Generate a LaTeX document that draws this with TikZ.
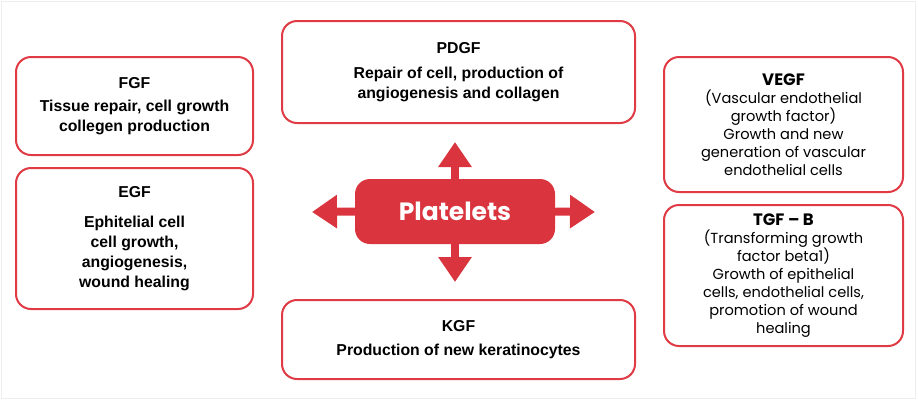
\documentclass[tikz,border=0pt]{standalone}
\usepackage{fontspec}
\setmainfont{Liberation Sans}
\newfontfamily\geofont{Poppins}
\usetikzlibrary{arrows.meta,positioning}

\definecolor{pltred}{HTML}{DA343E}
\definecolor{boxred}{HTML}{E03A44}

\tikzset{
  factor/.style={draw=boxred, line width=2pt, rounded corners=15pt, fill=white,
    inner sep=0pt, align=center, font=\fontsize{15.8}{20}\selectfont\bfseries},
  factorlight/.style={factor, font=\geofont\fontsize{14.6}{18}\selectfont},
  hub/.style={fill=pltred, rounded corners=15pt, minimum width=200pt, minimum height=65pt,
    inner sep=0pt, text=white, font=\geofont\fontsize{25}{28}\selectfont\bfseries},
  spoke/.style={pltred, line width=8pt, -{Triangle[width=32pt,length=25pt]}}
}
\newcommand\facttitle[1]{{\fontsize{16.5}{18}\selectfont\bfseries #1}}

\begin{document}
\begin{tikzpicture}[x=1pt,y=-1pt]
  \useasboundingbox (0,0) rectangle (918,400);
  \draw[black!7] (1,1) rectangle (915,398);

  % boxes round the hub
  \node[factor, minimum width=237pt, minimum height=98pt]  (fgf)  at (134.5,106)
    {FGF\\[3pt] Tissue repair, cell growth\\ collegen production};
  \node[factor, minimum width=237pt, minimum height=141pt] (egf)  at (134.5,238.5)
    {EGF\\[10pt] Ephitelial cell\\ cell growth,\\ angiogenesis,\\ wound healing};
  \node[factor, minimum width=353pt, minimum height=102pt] (pdgf) at (458.5,72)
    {PDGF\\[5pt] Repair of cell, production of\\ angiogenesis and collagen};
  \node[factor, minimum width=353pt, minimum height=79pt]  (kgf)  at (458.5,339.5)
    {KGF\\[4pt] Production of new keratinocytes};
  \node[factorlight, minimum width=239pt, minimum height=135pt] (vegf) at (783.5,124.5)
    {\facttitle{VEGF}\\ (Vascular endothelial\\ growth factor)\\ Growth and new\\ generation of vascular\\ endothelial cells};
  \node[factorlight, minimum width=239pt, minimum height=141pt] (tgf)  at (783.5,275.5)
    {\facttitle{TGF – B}\\ (Transforming growth\\ factor beta1)\\ Growth of epithelial\\ cells, endothelial cells,\\ promotion of wound\\ healing};

  % hub and its arrows
  \node[hub] (plt) at (455,211.5) {Platelets};
  \coordinate (tipn) at (455,142);
  \coordinate (tips) at (455,282);
  \coordinate (tipw) at (312,212);
  \coordinate (tipe) at (595,212);
  \draw[spoke] (plt.north) -- (tipn);
  \draw[spoke] (plt.south) -- (tips);
  \draw[spoke] (plt.west)  -- (tipw);
  \draw[spoke] (plt.east)  -- (tipe);
\end{tikzpicture}
\end{document}
